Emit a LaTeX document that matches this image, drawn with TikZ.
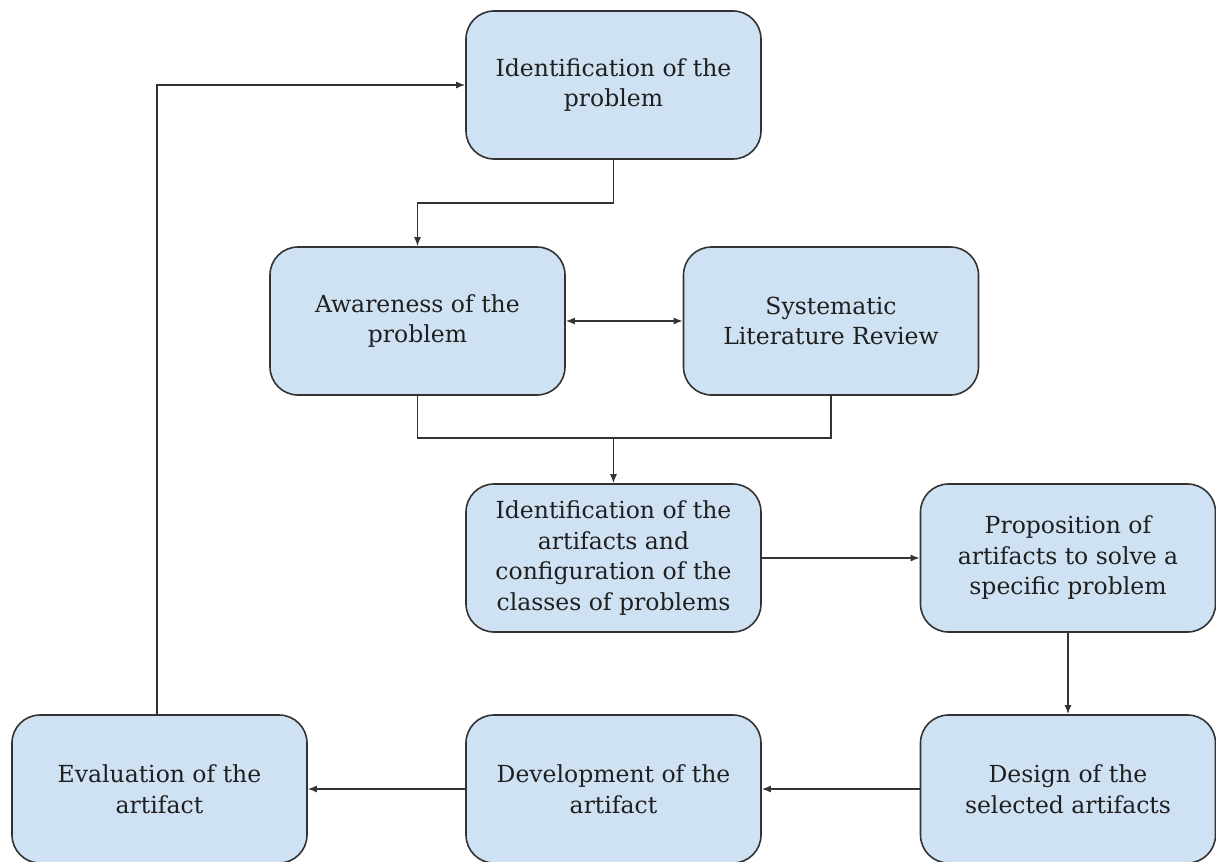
\documentclass[tikz,border=0pt]{standalone}
\usepackage{fontspec}
\setmainfont{DejaVu Serif}
\usetikzlibrary{arrows.meta}
\definecolor{boxfill}{HTML}{CFE2F3}
\definecolor{boxline}{HTML}{333333}
\begin{document}
\begin{tikzpicture}[x=1pt,y=-1pt,
  stagebox/.style={draw=boxline, line width=1.6pt, fill=boxfill, rounded corners=28pt,
    minimum width=295pt, minimum height=148pt, align=center, inner sep=0pt,
    font=\fontsize{23.5}{30.5}\selectfont, text=black!88},
  link/.style={draw=boxline, line width=1.5pt},
  tip/.style={-{Latex[length=9pt,width=7pt]}}]
\useasboundingbox (0,0) rectangle (1216,862);
\node[stagebox] (ident) at (613.5,85) {Identification of the\\problem};
\node[stagebox] (aware) at (417.5,321) {Awareness of the\\problem};
\node[stagebox] (slr) at (831,321) {Systematic\\Literature Review};
\node[stagebox] (artif) at (613.5,558) {Identification of the\\artifacts and\\configuration of the\\classes of problems};
\node[stagebox] (prop) at (1068,558) {Proposition of\\artifacts to solve a\\specific problem};
\node[stagebox] (design) at (1068,789) {Design of the\\selected artifacts};
\node[stagebox] (devel) at (613.5,789) {Development of the\\artifact};
\node[stagebox] (eval) at (159.5,789) {Evaluation of the\\artifact};

\coordinate (evalup) at (157,85);
\coordinate (identdown) at (613.5,203);
\coordinate (merge) at (613.5,438);

\draw[link,tip] (eval.north -| evalup) -- (evalup) -- (ident.west);
\draw[link,tip] (ident.south -| identdown) -- (identdown) -| (aware.north);
\draw[link,{Latex[length=9pt,width=7pt]}-{Latex[length=9pt,width=7pt]}] (aware.east) -- (slr.west);
\draw[link] (aware.south) |- (merge) -| (slr.south);
\draw[link,tip] (merge) -- (artif.north);
\draw[link,tip] (artif.east) -- (prop.west);
\draw[link,tip] (prop.south) -- (design.north);
\draw[link,tip] (design.west) -- (devel.east);
\draw[link,tip] (devel.west) -- (eval.east);
\end{tikzpicture}
\end{document}
